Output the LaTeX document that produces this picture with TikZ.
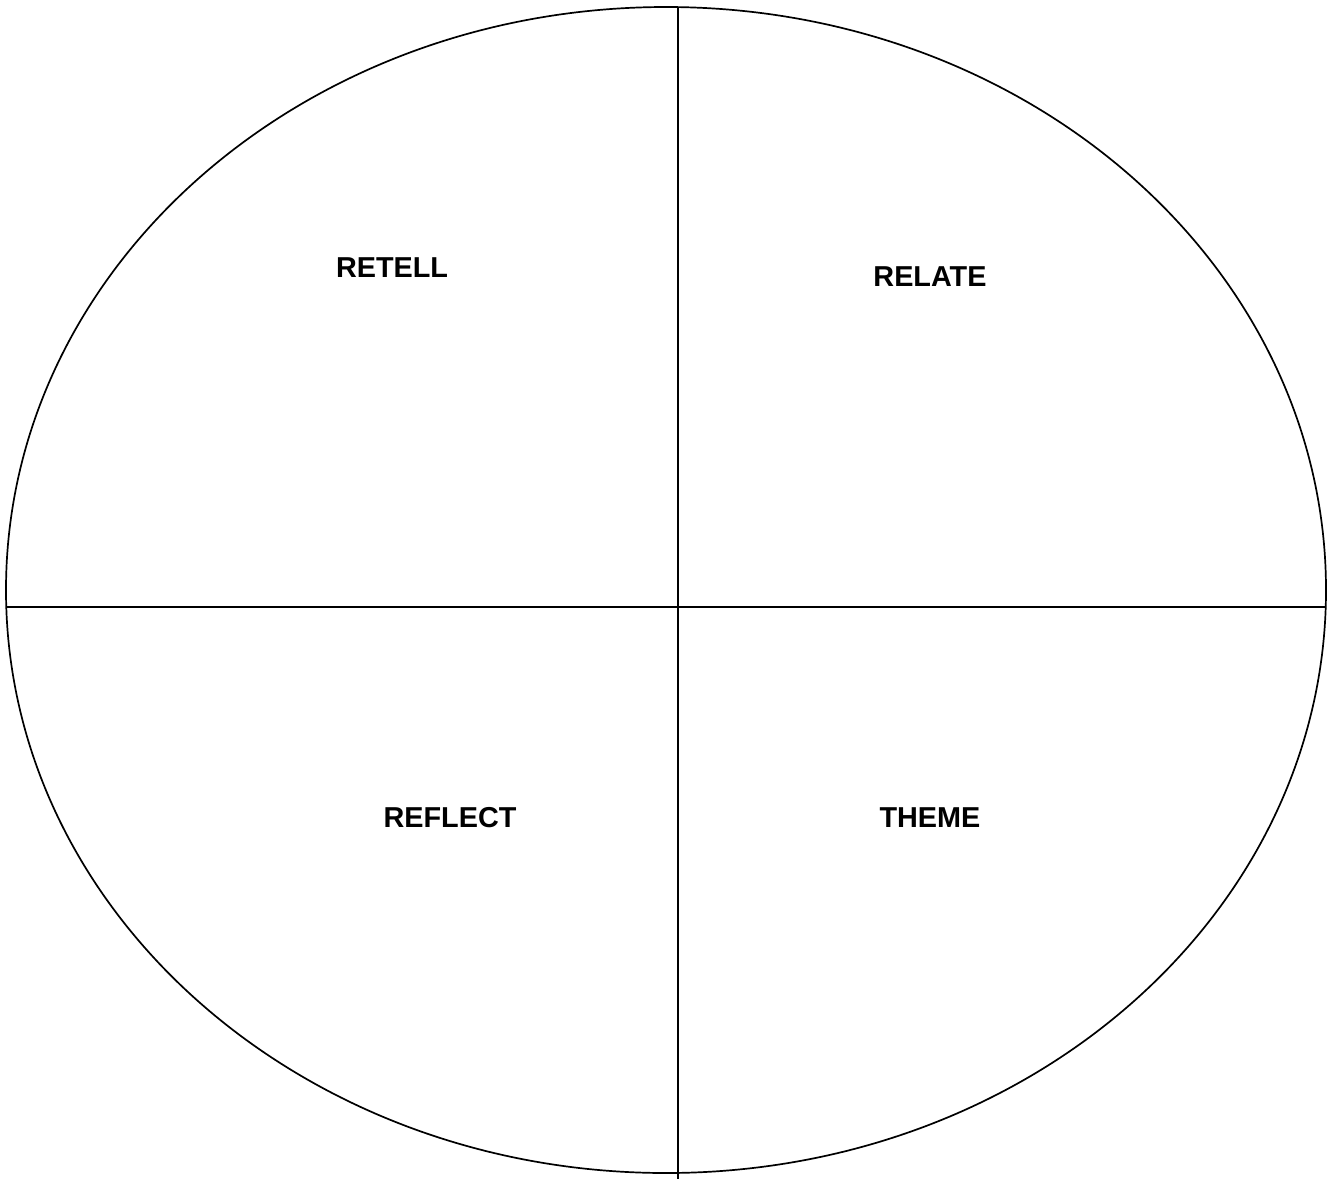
\documentclass[tikz,border=0pt]{standalone}
\usepackage{fontspec}
\newfontfamily\quadfont{Liberation Sans}
\tikzset{
  quad/.style={font=\quadfont\fontsize{28.8}{34}\selectfont\bfseries, inner sep=0pt, anchor=center},
  rim/.style={draw=black, line width=1.7pt},
  split/.style={draw=black, line width=1.7pt}
}

\begin{document}
\begin{tikzpicture}[x=1pt, y=-1pt]
\useasboundingbox (0,0) rectangle (1331,1179);
% outer oval
\draw[rim] (666,590) ellipse [x radius=660, y radius=583];
% dividing lines
\coordinate (vtop) at (678,7);
\coordinate (vbot) at (678,1179);
\coordinate (hleft) at (6,607);
\coordinate (hright) at (1326,607);
\draw[split] (vtop) -- (vbot);
\draw[split] (hleft) -- (hright);
% quadrant labels
\node[quad] (retell) at (392,268) {RETELL};
\node[quad] (relate) at (930,277) {RELATE};
\node[quad] (reflect) at (450,818) {REFLECT};
\node[quad] (theme) at (930,818) {THEME};
\end{tikzpicture}
\end{document}
